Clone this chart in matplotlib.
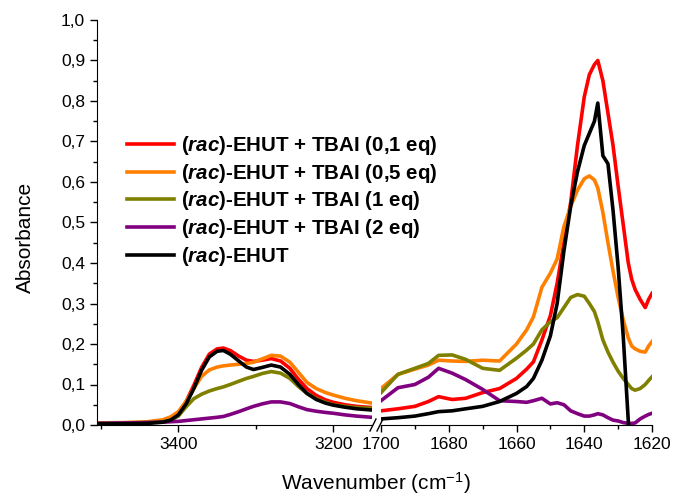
import numpy as np
import matplotlib
matplotlib.use('Agg')
import matplotlib.pyplot as plt
from matplotlib.ticker import MultipleLocator, FixedLocator, FuncFormatter
from matplotlib.lines import Line2D

plt.rcParams['font.family'] = ['Liberation Sans', 'DejaVu Sans']
plt.rcParams['mathtext.fontset'] = 'custom'
plt.rcParams['mathtext.rm'] = 'Liberation Sans'
plt.rcParams['mathtext.it'] = 'Liberation Sans:italic:bold'
plt.rcParams['mathtext.bf'] = 'Liberation Sans:bold'

# N-H region (left panel)
wn_nh = [3505, 3470, 3440, 3420, 3410, 3400, 3390, 3380, 3370, 3360,
         3350, 3342, 3333, 3322, 3312, 3303, 3292, 3280, 3268, 3256,
         3245, 3234, 3222, 3210, 3200, 3185, 3170, 3150]
nh_01 = [0.004, 0.004, 0.005, 0.009, 0.016, 0.030, 0.058, 0.098, 0.142, 0.175,
         0.188, 0.190, 0.184, 0.170, 0.160, 0.157, 0.160, 0.164, 0.158, 0.140,
         0.113, 0.090, 0.073, 0.062, 0.056, 0.050, 0.046, 0.043]
nh_05 = [0.005, 0.006, 0.008, 0.013, 0.020, 0.033, 0.058, 0.090, 0.120, 0.136,
         0.143, 0.146, 0.148, 0.150, 0.152, 0.155, 0.163, 0.172, 0.170, 0.155,
         0.130, 0.105, 0.090, 0.080, 0.074, 0.066, 0.060, 0.054]
nh_1 = [0.004, 0.005, 0.006, 0.008, 0.012, 0.022, 0.045, 0.065, 0.076, 0.084,
        0.090, 0.094, 0.100, 0.108, 0.115, 0.120, 0.127, 0.132, 0.128, 0.115,
        0.095, 0.078, 0.065, 0.056, 0.050, 0.046, 0.043, 0.041]
nh_2 = [0.004, 0.005, 0.006, 0.007, 0.008, 0.009, 0.011, 0.013, 0.015, 0.017,
        0.019, 0.021, 0.026, 0.033, 0.040, 0.046, 0.052, 0.057, 0.057, 0.053,
        0.045, 0.038, 0.034, 0.031, 0.029, 0.025, 0.022, 0.019]
nh_pure = [0.003, 0.003, 0.004, 0.007, 0.012, 0.025, 0.052, 0.090, 0.135, 0.168,
           0.182, 0.184, 0.175, 0.158, 0.143, 0.137, 0.142, 0.148, 0.143, 0.125,
           0.100, 0.078, 0.063, 0.054, 0.049, 0.044, 0.040, 0.037]

# C=O region (right panel)
wn_co = [1700, 1695, 1690, 1686, 1683, 1679, 1675, 1670, 1665, 1660,
         1657, 1655, 1652.5, 1650, 1648, 1646, 1644, 1642, 1640, 1638.5,
         1637, 1636, 1634.5, 1633, 1631.5, 1630, 1628.5, 1627, 1626, 1625,
         1623.5, 1622, 1621, 1620]
co_01 = [0.035, 0.040, 0.046, 0.058, 0.070, 0.063, 0.066, 0.080, 0.090, 0.115,
         0.138, 0.156, 0.210, 0.270, 0.350, 0.450, 0.550, 0.690, 0.810, 0.865,
         0.890, 0.900, 0.850, 0.770, 0.690, 0.590, 0.495, 0.400, 0.360, 0.335,
         0.310, 0.290, 0.310, 0.325]
co_05 = [0.090, 0.125, 0.138, 0.148, 0.160, 0.158, 0.157, 0.160, 0.158, 0.200,
         0.235, 0.267, 0.340, 0.375, 0.410, 0.490, 0.540, 0.580, 0.608, 0.615,
         0.605, 0.585, 0.525, 0.450, 0.380, 0.315, 0.260, 0.215, 0.195, 0.188,
         0.182, 0.180, 0.195, 0.206]
co_1 = [0.080, 0.125, 0.140, 0.152, 0.172, 0.173, 0.162, 0.140, 0.135, 0.165,
        0.185, 0.200, 0.235, 0.255, 0.265, 0.290, 0.315, 0.322, 0.318, 0.300,
        0.280, 0.255, 0.210, 0.180, 0.155, 0.133, 0.115, 0.100, 0.090, 0.086,
        0.090, 0.100, 0.110, 0.119]
co_2 = [0.060, 0.092, 0.100, 0.118, 0.140, 0.128, 0.112, 0.088, 0.060, 0.058,
        0.056, 0.060, 0.066, 0.052, 0.055, 0.050, 0.035, 0.028, 0.022, 0.022,
        0.025, 0.028, 0.025, 0.018, 0.012, 0.010, 0.006, 0.004, 0.004, 0.005,
        0.015, 0.022, 0.026, 0.029]
co_pure = [0.015, 0.018, 0.022, 0.028, 0.033, 0.035, 0.040, 0.046, 0.058, 0.078,
           0.095, 0.115, 0.160, 0.220, 0.300, 0.430, 0.540, 0.625, 0.690, 0.720,
           0.750, 0.795, 0.665, 0.645, 0.530, 0.390, 0.220, 0.010, -0.150, np.nan,
           np.nan, np.nan, np.nan, np.nan]

labels = [r'($\mathit{rac}$)-EHUT + TBAI (0,1 eq)',
          r'($\mathit{rac}$)-EHUT + TBAI (0,5 eq)',
          r'($\mathit{rac}$)-EHUT + TBAI (1 eq)',
          r'($\mathit{rac}$)-EHUT + TBAI (2 eq)',
          r'($\mathit{rac}$)-EHUT']
colors = ['#ff0000', '#ff8000', '#808000', '#800080', '#000000']
nh_series = [nh_01, nh_05, nh_1, nh_2, nh_pure]
co_series = [co_01, co_05, co_1, co_2, co_pure]

W, H = 673, 495
fig = plt.figure(figsize=(W / 100, H / 100), dpi=100)
ax1 = fig.add_axes([97 / W, 70 / H, 275 / W, 405 / H])
ax2 = fig.add_axes([381 / W, 70 / H, 271 / W, 405 / H])
ax1.set_zorder(3)

for ys, c, lab in zip(nh_series, colors, labels):
    ax1.plot(wn_nh, ys, color=c, lw=2.6, label=lab)
for ys, c in zip(co_series, colors):
    ax2.plot(wn_co, ys, color=c, lw=2.6)

ax1.set_xlim(3505, 3150)
ax2.set_xlim(1700, 1620)
for ax in (ax1, ax2):
    ax.set_ylim(0, 1.0)
    ax.spines['top'].set_visible(False)
    ax.spines['right'].set_visible(False)
    ax.tick_params(direction='out', labelsize=12.5, length=5, width=1)
    ax.tick_params(which='minor', direction='out', length=3, width=1)

ax1.xaxis.set_major_locator(FixedLocator([3400, 3200]))
ax1.xaxis.set_minor_locator(FixedLocator([3500, 3300]))
ax1.yaxis.set_major_locator(MultipleLocator(0.1))
ax1.yaxis.set_minor_locator(MultipleLocator(0.05))
ax1.yaxis.set_major_formatter(FuncFormatter(lambda v, p: f'{v:.1f}'.replace('.', ',')))

ax2.spines['left'].set_visible(False)
ax2.tick_params(axis='y', which='both', left=False, labelleft=False)
ax2.xaxis.set_major_locator(MultipleLocator(20))
ax2.xaxis.set_minor_locator(MultipleLocator(10))

# break marks
for x0 in (370, 377):
    fig.add_artist(Line2D([x0 / W, (x0 + 6) / W], [(H - 431) / H, (H - 419) / H],
                          transform=fig.transFigure, color='black', lw=1))

fig.text(25 / W, 1 - 237.5 / H, 'Absorbance', rotation=90, ha='center', va='center', fontsize=15)
fig.text(376 / W, 1 - 483 / H, 'Wavenumber (cm$^{-1}$)', ha='center', va='center', fontsize=15)

ax1.legend(loc='upper left', bbox_to_anchor=(127 / W, 1 - 134 / H),
           bbox_transform=fig.transFigure, frameon=False, borderpad=0,
           borderaxespad=0, handlelength=2.3, handletextpad=0.35,
           labelspacing=0.23, prop={'weight': 'bold', 'size': 14.8})

fig.savefig('out.png', dpi=100)
